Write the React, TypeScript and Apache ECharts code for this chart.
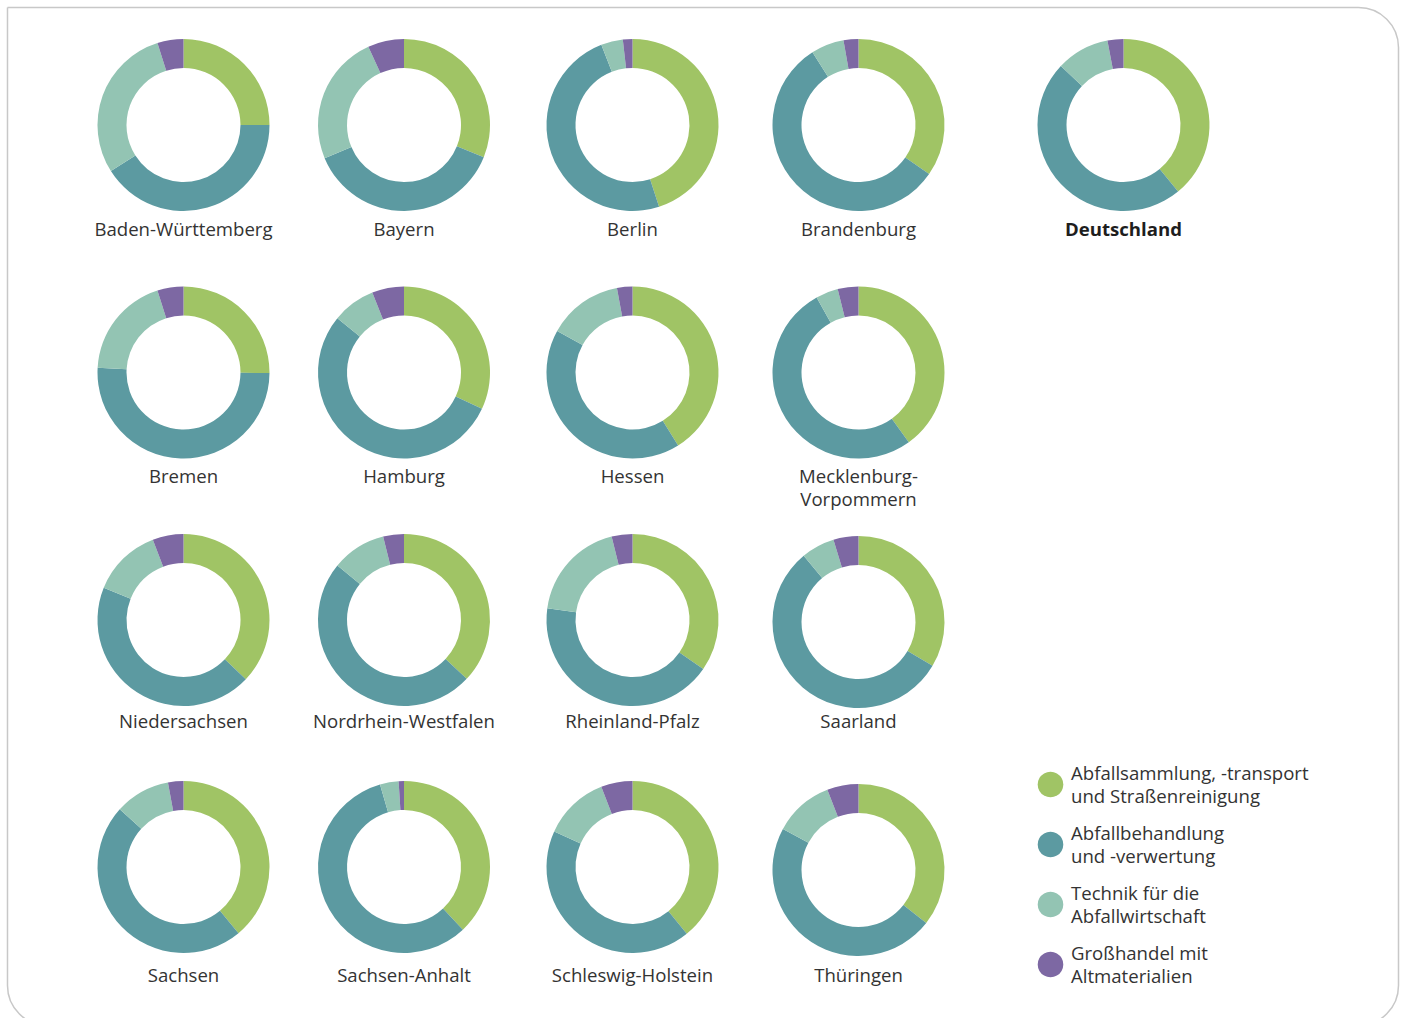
import React, { useEffect, useRef } from "react";
import * as echarts from "echarts";

// ---- data ----
const regions = [
  "Baden-Württemberg", "Bayern", "Berlin", "Brandenburg", "Deutschland",
  "Bremen", "Hamburg", "Hessen", "Mecklenburg-\nVorpommern",
  "Niedersachsen", "Nordrhein-Westfalen", "Rheinland-Pfalz", "Saarland",
  "Sachsen", "Sachsen-Anhalt", "Schleswig-Holstein", "Thüringen",
];
const categories = [
  "Abfallsammlung, -transport\nund Straßenreinigung",
  "Abfallbehandlung\nund -verwertung",
  "Technik für die\nAbfallwirtschaft",
  "Großhandel mit\nAltmaterialien",
];
const sammlung = [25.0, 31.1, 45.0, 34.7, 39.1, 25.1, 31.9, 41.1, 40.1, 37.1, 37.0, 34.6, 33.5, 39.0, 38.0, 39.1, 35.6];
const behandlung = [41.0, 37.6, 49.1, 56.4, 48.0, 50.8, 53.9, 41.9, 51.9, 44.0, 48.9, 42.5, 55.5, 47.8, 57.5, 42.6, 47.4];
const technik = [29.1, 24.5, 4.1, 6.2, 10.0, 19.2, 8.1, 14.1, 4.2, 13.1, 10.2, 18.9, 6.3, 10.4, 3.5, 12.3, 11.2];
const grosshandel = [4.9, 6.8, 1.8, 2.8, 3.0, 4.9, 6.0, 2.9, 3.9, 5.8, 3.9, 3.9, 4.7, 2.9, 1.0, 5.9, 5.9];

// ---- layout ----
const colors = ["#a0c465", "#5c9aa1", "#93c4b3", "#7d68a3"];
const colX = [183.5, 404, 632.5, 858.5, 1123.5];
const rowY = [125, 372.5, 620, 867];
const labelY = [228, 475, 720, 974];
const rowOf = (i: number) => (i < 5 ? 0 : Math.floor((i - 5) / 4) + 1);
const colOf = (i: number) => (i < 5 ? i : (i - 5) % 4);
const yNudge: Record<number, number> = { 12: 2, 16: 3 };
const legendY = [783.5, 843.5, 903.5, 963.5];
const legendDotY = [784.5, 844.5, 904.5, 964.5];

const FONT = '"Open Sans", "Noto Sans", sans-serif';
const FS = 18.6;

export default function App() {
  const ref = useRef<HTMLDivElement>(null);
  useEffect(() => {
    if (!ref.current) return;
    const chart = echarts.init(ref.current, undefined, { renderer: "svg" });
    const series = regions.map((name, i) => {
      const r = rowOf(i);
      const c = colOf(i);
      return {
        type: "pie",
        name,
        silent: true,
        center: [colX[c], rowY[r] + (yNudge[i] || 0)],
        radius: [57, 86],
        startAngle: 90,
        clockwise: true,
        label: { show: false },
        labelLine: { show: false },
        emphasis: { disabled: true },
        itemStyle: { borderWidth: 0 },
        data: [sammlung[i], behandlung[i], technik[i], grosshandel[i]].map((v, k) => ({
          name: categories[k],
          value: v,
          itemStyle: { color: colors[k] },
        })),
      };
    });
    const graphic: any[] = [
      {
        type: "rect",
        z: -1,
        shape: { x: 7.5, y: 7.5, width: 1391, height: 1018, r: [0, 40, 40, 40] },
        style: { fill: "none", stroke: "#c8c8c8", lineWidth: 1.5 },
        silent: true,
      },
    ];
    regions.forEach((name, i) => {
      const r = rowOf(i);
      const c = colOf(i);
      graphic.push({
        type: "text",
        silent: true,
        style: {
          text: name,
          x: colX[c],
          y: labelY[r] - 11.5,
          align: "center",
          textAlign: "center",
          verticalAlign: "top",
          textVerticalAlign: "top",
          lineHeight: 23,
          font: `${name === "Deutschland" ? "bold " : ""}${FS}px ${FONT}`,
          fill: name === "Deutschland" ? "#1e1e1e" : "#333333",
        },
      });
    });
    categories.forEach((cat, k) => {
      graphic.push({
        type: "circle",
        silent: true,
        shape: { cx: 1050.5, cy: legendDotY[k], r: 12.8 },
        style: { fill: colors[k] },
      });
      graphic.push({
        type: "text",
        silent: true,
        style: {
          text: cat,
          x: 1071,
          y: legendY[k],
          align: "left",
          textAlign: "left",
          verticalAlign: "middle",
          textVerticalAlign: "middle",
          lineHeight: 23,
          font: `${FS}px ${FONT}`,
          fill: "#333333",
        },
      });
    });
    chart.setOption({
      animation: false,
      backgroundColor: "#ffffff",
      series,
      graphic,
    });
    return () => chart.dispose();
  }, []);
  return (
    <div
      ref={ref}
      style={{ position: "fixed", left: 0, top: 0, width: 1404, height: 1018, background: "#fff" }}
    />
  );
}
